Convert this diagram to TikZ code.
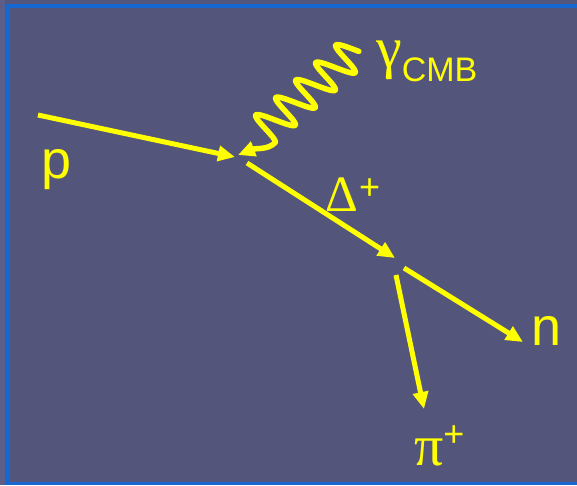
\documentclass[tikz,border=0pt]{standalone}
\usepackage{fontspec}
\setmainfont{Liberation Sans}
\newfontfamily\gk{Liberation Serif}
\usetikzlibrary{arrows.meta}
\definecolor{bg}{RGB}{83,85,122}
\definecolor{strip}{RGB}{92,94,138}
\definecolor{frameblue}{RGB}{22,104,208}
\definecolor{ylw}{RGB}{255,255,0}
\tikzset{
  particle/.style={draw=ylw, line width=5pt, -{Triangle[length=17pt,width=15pt]}},
  photon/.style={draw=ylw, line width=5.5pt, line cap=round, -{Triangle[length=17pt,width=15pt]}},
  lbl/.style={text=ylw, inner sep=0pt, anchor=base west},
}
\begin{document}
\begin{tikzpicture}[x=1pt,y=-1pt]
\useasboundingbox (0,0) rectangle (577,485);
\fill[bg] (0,0) rectangle (577,485);
\fill[strip] (0,0) rectangle (5,485);
\fill[frameblue] (5,4) rectangle (577,8);
\fill[frameblue] (5,4) rectangle (9,485);
\fill[frameblue] (5,482) rectangle (577,485);

\coordinate (pstart) at (38,115);
\coordinate (ptip) at (235,157);
\coordinate (gtip) at (238,155);
\coordinate (dstart) at (247,163);
\coordinate (dtip) at (395,258);
\coordinate (nstart) at (404,268);
\coordinate (ntip) at (523,342);
\coordinate (pistart) at (396,275);
\coordinate (pitip) at (424,409);

\draw[particle] (pstart) -- (ptip);
\draw[photon] plot[domain=-0.28:4.5, samples=160, smooth, variable=\t]
  ({336-20*\t+14.5*(1-cos(360*\t))},{45+17.5*\t+9.5*(1-cos(360*\t))})
  .. controls (268,150) and (256,148) .. (gtip);
\draw[particle] (dstart) -- (dtip);
\draw[particle] (nstart) -- (ntip);
\draw[particle] (pistart) -- (pitip);

\node[lbl, font=\fontsize{54}{60}\selectfont] (p) at (41,178) {p};
\node[lbl, font=\fontsize{54}{60}\selectfont] (n) at (531,345) {n};
\node[lbl] (g) at (376,67) {{\gk\fontsize{58}{60}\selectfont γ}\raisebox{-14pt}{\fontsize{34}{36}\selectfont CMB}};
\node[lbl] (d) at (325,211) {{\gk\fontsize{51}{60}\selectfont Δ}\kern1pt\raisebox{12pt}{\fontsize{36}{40}\selectfont +}};
\node[lbl] (pi) at (414,465) {{\gk\fontsize{58}{60}\selectfont π}\raisebox{19pt}{\fontsize{36}{40}\selectfont +}};
\end{tikzpicture}
\end{document}
